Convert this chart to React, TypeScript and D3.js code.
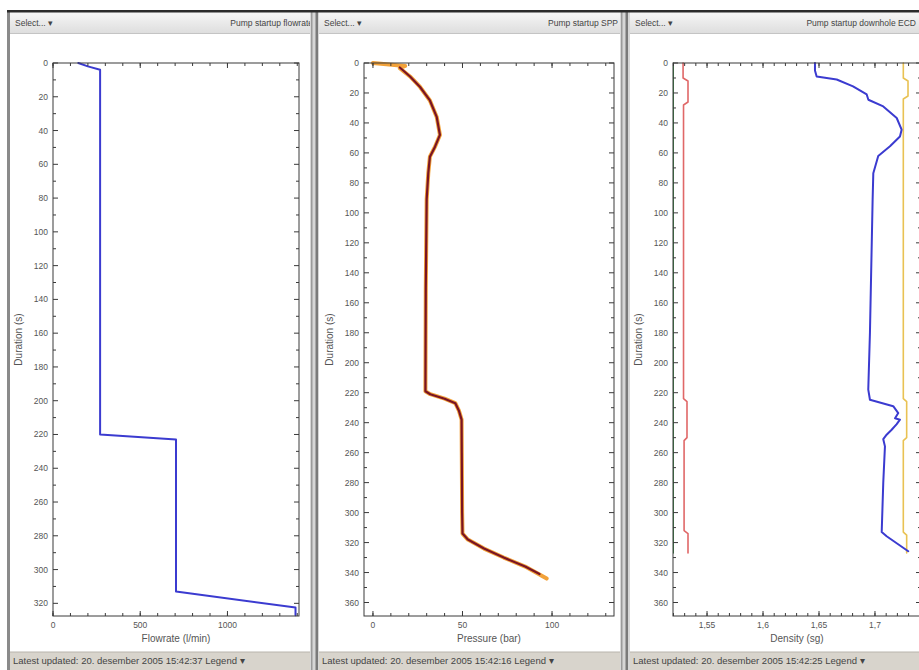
import React from 'react';
import * as d3 from 'd3';

// ---------- DATA ----------
const flowTime = [0, 2, 4, 220, 223, 313, 322.5, 327];
const flowRate = [145, 200, 270, 270, 705, 705, 1390, 1390];

const sppTimeMeasured = [0, 1, 2, 3.5, 9, 16, 25, 36, 48, 56, 62.5, 73.5, 91, 150, 219, 221, 224, 227, 232, 238, 260, 300, 314, 318, 324, 330, 336, 344];
const sppMeasured = [0, 9, 18, 15, 20.7, 26.3, 31.8, 35.6, 37.4, 34.6, 31.8, 30.9, 30, 29.5, 29.3, 32, 40, 46, 48, 49.5, 49.6, 49.8, 50, 53, 62, 73, 85, 97];
const sppTimeModel = [3, 9, 16, 25, 36, 48, 56, 62.5, 73.5, 91, 150, 219, 221, 224, 227, 232, 238, 260, 300, 314, 318, 324, 330, 336, 341];
const sppModel = [15, 20.7, 26.3, 31.8, 35.6, 37.4, 34.6, 31.8, 30.9, 30, 29.5, 29.3, 32, 40, 46, 48, 49.5, 49.6, 49.8, 50, 53, 62, 73, 85, 93];

const ecdTime = [0, 5, 9, 11, 15.6, 21, 24.5, 29, 36.7, 44.5, 49, 55.6, 62, 73.5, 91, 180, 218, 224.7, 229, 233.6, 237, 238, 241, 244.7, 248, 251, 255.8, 280, 313, 315.8, 325.8];
const ecdDownhole = [1.6464, 1.6464, 1.6479, 1.6658, 1.6804, 1.6926, 1.6941, 1.7074, 1.7194, 1.7238, 1.7223, 1.7134, 1.7029, 1.6985, 1.6979, 1.6955, 1.694, 1.6955, 1.7163, 1.7208, 1.7179, 1.7223, 1.7194, 1.7149, 1.7104, 1.7074, 1.7089, 1.7074, 1.706, 1.7104, 1.7297];
const redTime = [0, 10, 12, 26, 28, 224, 226, 250, 252, 312, 314, 327];
const redDensity = [1.5286, 1.5286, 1.533, 1.533, 1.529, 1.529, 1.5321, 1.5321, 1.5295, 1.5295, 1.533, 1.533];
const yellowTime = [0, 10, 12, 22, 24, 224, 226, 250, 252, 313, 315, 327];
const yellowDensity = [1.7253, 1.7253, 1.7295, 1.7295, 1.7253, 1.7253, 1.7283, 1.7283, 1.7253, 1.7253, 1.7283, 1.7283];
const greenTime = [0, 327];
const greenDensity = [1.5199, 1.5199];

const durTicks1 = [0, 20, 40, 60, 80, 100, 120, 140, 160, 180, 200, 220, 240, 260, 280, 300, 320];
const durTicks2 = [0, 20, 40, 60, 80, 100, 120, 140, 160, 180, 200, 220, 240, 260, 280, 300, 320, 340, 360];
const flowTicks = [0, 500, 1000];
const pressTicks = [0, 50, 100];
const densTicks = [1.55, 1.6, 1.65, 1.7];
const densTickLabels = ['1,55', '1,6', '1,65', '1,7'];

const titles = ['Pump startup flowrate', 'Pump startup SPP', 'Pump startup downhole ECD'];
const xTitles = ['Flowrate (l/min)', 'Pressure (bar)', 'Density (sg)'];
const statusTexts = [
  'Latest updated: 20. desember 2005 15:42:37',
  'Latest updated: 20. desember 2005 15:42:16',
  'Latest updated: 20. desember 2005 15:42:25',
];

const FONT = '"Liberation Sans", Arial, sans-serif';

type Series = { t: number[]; v: number[]; color: string; width: number };

type PanelProps = {
  idx: number;
  x0: number;
  x1: number;
  titleRight: number;
  plot: { l: number; r: number; t: number; b: number };
  xDomain: [number, number];
  yDomain: [number, number];
  xMajor: number[];
  xLabels: string[];
  xMinorStep: number;
  yMajor: number[];
  series: Series[];
};

function Panel(p: PanelProps) {
  const { idx, x0, x1, plot } = p;
  const xs = d3.scaleLinear().domain(p.xDomain).range([plot.l, plot.r]);
  const ys = d3.scaleLinear().domain(p.yDomain).range([plot.t, plot.b]);
  const clipId = `clip${idx}`;
  const plotClip = `pclip${idx}`;
  const xMinor: number[] = [];
  const start = Math.ceil(p.xDomain[0] / p.xMinorStep - 1e-9);
  const end = Math.floor(p.xDomain[1] / p.xMinorStep + 1e-9);
  for (let k = start; k <= end; k++) xMinor.push(+(k * p.xMinorStep).toFixed(6));
  const yMinor: number[] = [];
  for (let v = 0; v <= p.yDomain[1]; v += 10) yMinor.push(v);
  const line = d3
    .line<[number, number]>()
    .x((d) => xs(d[1]))
    .y((d) => ys(d[0]));
  const ax = '#3a3a3a';
  return (
    <g clipPath={`url(#${clipId})`}>
      <defs>
        <clipPath id={clipId}>
          <rect x={x0} y={0} width={x1 - x0} height={670} />
        </clipPath>
        <clipPath id={plotClip}>
          <rect x={plot.l} y={plot.t - 2} width={plot.r - plot.l} height={plot.b - plot.t + 4} />
        </clipPath>
      </defs>
      <rect x={x0} y={12} width={x1 - x0} height={640} fill="#ffffff" />
      {/* header */}
      <rect x={x0} y={12} width={x1 - x0} height={21} fill="url(#hdrGrad)" />
      <line x1={x0} x2={x1} y1={33.5} y2={33.5} stroke="#c4c4c4" />
      <text x={x0 + 5} y={26} fontSize={8.5} fontFamily={FONT} fill="#444">
        Select...  ▾
      </text>
      <text x={p.titleRight} y={26} fontSize={8.5} fontFamily={FONT} fill="#444" textAnchor="end">
        {titles[idx]}
      </text>
      {/* series */}
      <g clipPath={`url(#${plotClip})`}>
        {p.series.map((s, i) => (
          <path
            key={i}
            d={line(s.t.map((t, j) => [t, s.v[j]] as [number, number])) || ''}
            fill="none"
            stroke={s.color}
            strokeWidth={s.width}
            strokeLinejoin="round"
            strokeLinecap="round"
          />
        ))}
      </g>
      {/* frame */}
      <rect x={plot.l} y={plot.t} width={plot.r - plot.l} height={plot.b - plot.t} fill="none" stroke={ax} strokeWidth={1} />
      {/* y ticks */}
      {yMinor.map((v) => {
        const major = v % 20 === 0;
        const len = major ? 5 : 3;
        return (
          <g key={'y' + v}>
            <line x1={plot.l} x2={plot.l + len} y1={ys(v)} y2={ys(v)} stroke={ax} />
            <line x1={plot.r} x2={plot.r - len} y1={ys(v)} y2={ys(v)} stroke={ax} />
          </g>
        );
      })}
      {p.yMajor.map((v) => (
        <text key={'yl' + v} x={plot.l - 5} y={ys(v) + 3} fontSize={8.5} fontFamily={FONT} fill="#555" textAnchor="end">
          {v}
        </text>
      ))}
      {/* x ticks */}
      {xMinor.map((v) => (
        <g key={'xm' + v}>
          <line x1={xs(v)} x2={xs(v)} y1={plot.b} y2={plot.b - 3} stroke={ax} />
          <line x1={xs(v)} x2={xs(v)} y1={plot.t} y2={plot.t + 3} stroke={ax} />
        </g>
      ))}
      {p.xMajor.map((v, i) => (
        <g key={'xM' + v}>
          <line x1={xs(v)} x2={xs(v)} y1={plot.b} y2={plot.b - 5} stroke={ax} />
          <line x1={xs(v)} x2={xs(v)} y1={plot.t} y2={plot.t + 5} stroke={ax} />
          <text x={xs(v)} y={plot.b + 12} fontSize={8.5} fontFamily={FONT} fill="#555" textAnchor="middle">
            {p.xLabels[i]}
          </text>
        </g>
      ))}
      {/* axis titles */}
      <text
        x={plot.l - 31}
        y={(plot.t + plot.b) / 2}
        fontSize={10}
        fontFamily={FONT}
        fill="#555"
        textAnchor="middle"
        transform={`rotate(-90 ${plot.l - 31} ${(plot.t + plot.b) / 2})`}
      >
        Duration (s)
      </text>
      <text x={(plot.l + plot.r) / 2} y={plot.b + 26} fontSize={10} fontFamily={FONT} fill="#555" textAnchor="middle">
        {xTitles[idx]}
      </text>
      {/* status bar */}
      <rect x={x0} y={652} width={x1 - x0} height={18} fill="#d8d4cc" />
      <line x1={x0} x2={x1} y1={652} y2={652} stroke="#b8b4ac" />
      <text x={x0 + 3} y={664} fontSize={9.5} fontFamily={FONT} fill="#444">
        {statusTexts[idx]}{'  '}Legend ▾
      </text>
    </g>
  );
}

export default function App() {
  const panels: PanelProps[] = [
    {
      idx: 0,
      x0: 10,
      x1: 310,
      titleRight: 313,
      plot: { l: 53, r: 299, t: 63, b: 616 },
      xDomain: [0, 1410],
      yDomain: [0, 327.5],
      xMajor: flowTicks,
      xLabels: flowTicks.map(String),
      xMinorStep: 100,
      yMajor: durTicks1,
      series: [{ t: flowTime, v: flowRate, color: '#3b3bd0', width: 2 }],
    },
    {
      idx: 1,
      x0: 319,
      x1: 620,
      titleRight: 618,
      plot: { l: 364, r: 614, t: 63, b: 616 },
      xDomain: [-5, 134.6],
      yDomain: [0, 369],
      xMajor: pressTicks,
      xLabels: pressTicks.map(String),
      xMinorStep: 10,
      yMajor: durTicks2,
      series: [
        { t: sppTimeMeasured, v: sppMeasured, color: '#f2a23a', width: 4 },
        { t: sppTimeModel, v: sppModel, color: '#7a1424', width: 2.2 },
      ],
    },
    {
      idx: 2,
      x0: 630,
      x1: 935,
      titleRight: 916,
      plot: { l: 673, r: 921, t: 63, b: 616 },
      xDomain: [1.5196, 1.7411],
      yDomain: [0, 369],
      xMajor: densTicks,
      xLabels: densTickLabels,
      xMinorStep: 0.01,
      yMajor: durTicks2,
      series: [
        { t: greenTime, v: greenDensity, color: '#2e7d3a', width: 1.2 },
        { t: redTime, v: redDensity, color: '#e06868', width: 1.6 },
        { t: yellowTime, v: yellowDensity, color: '#e9c253', width: 1.6 },
        { t: ecdTime, v: ecdDownhole, color: '#3b3bd0', width: 2 },
      ],
    },
  ];
  return (
    <svg
      width={919}
      height={670}
      style={{ position: 'absolute', left: 0, top: 0, background: '#ffffff' }}
    >
      <defs>
        <linearGradient id="hdrGrad" x1="0" x2="0" y1="0" y2="1">
          <stop offset="0" stopColor="#f6f6f6" />
          <stop offset="1" stopColor="#dedede" />
        </linearGradient>
      </defs>
      <rect x={0} y={0} width={919} height={670} fill="#ffffff" />
      {panels.map((p) => (
        <Panel key={p.idx} {...p} />
      ))}
      {/* separators */}
      <rect x={7} y={11} width={3} height={659} fill="#8a8a8a" />
      <rect x={310} y={11} width={9} height={659} fill="#d6d6d6" />
      <rect x={311} y={11} width={1.5} height={659} fill="#9a9a9a" />
      <rect x={315.5} y={11} width={2.5} height={659} fill="#7a7a7a" />
      <rect x={620} y={11} width={10} height={659} fill="#d6d6d6" />
      <rect x={621} y={11} width={1.5} height={659} fill="#9a9a9a" />
      <rect x={625.5} y={11} width={2.5} height={659} fill="#7a7a7a" />
      {/* top dark border */}
      <rect x={7} y={10} width={912} height={2.5} fill="#2a2a2a" />
    </svg>
  );
}
